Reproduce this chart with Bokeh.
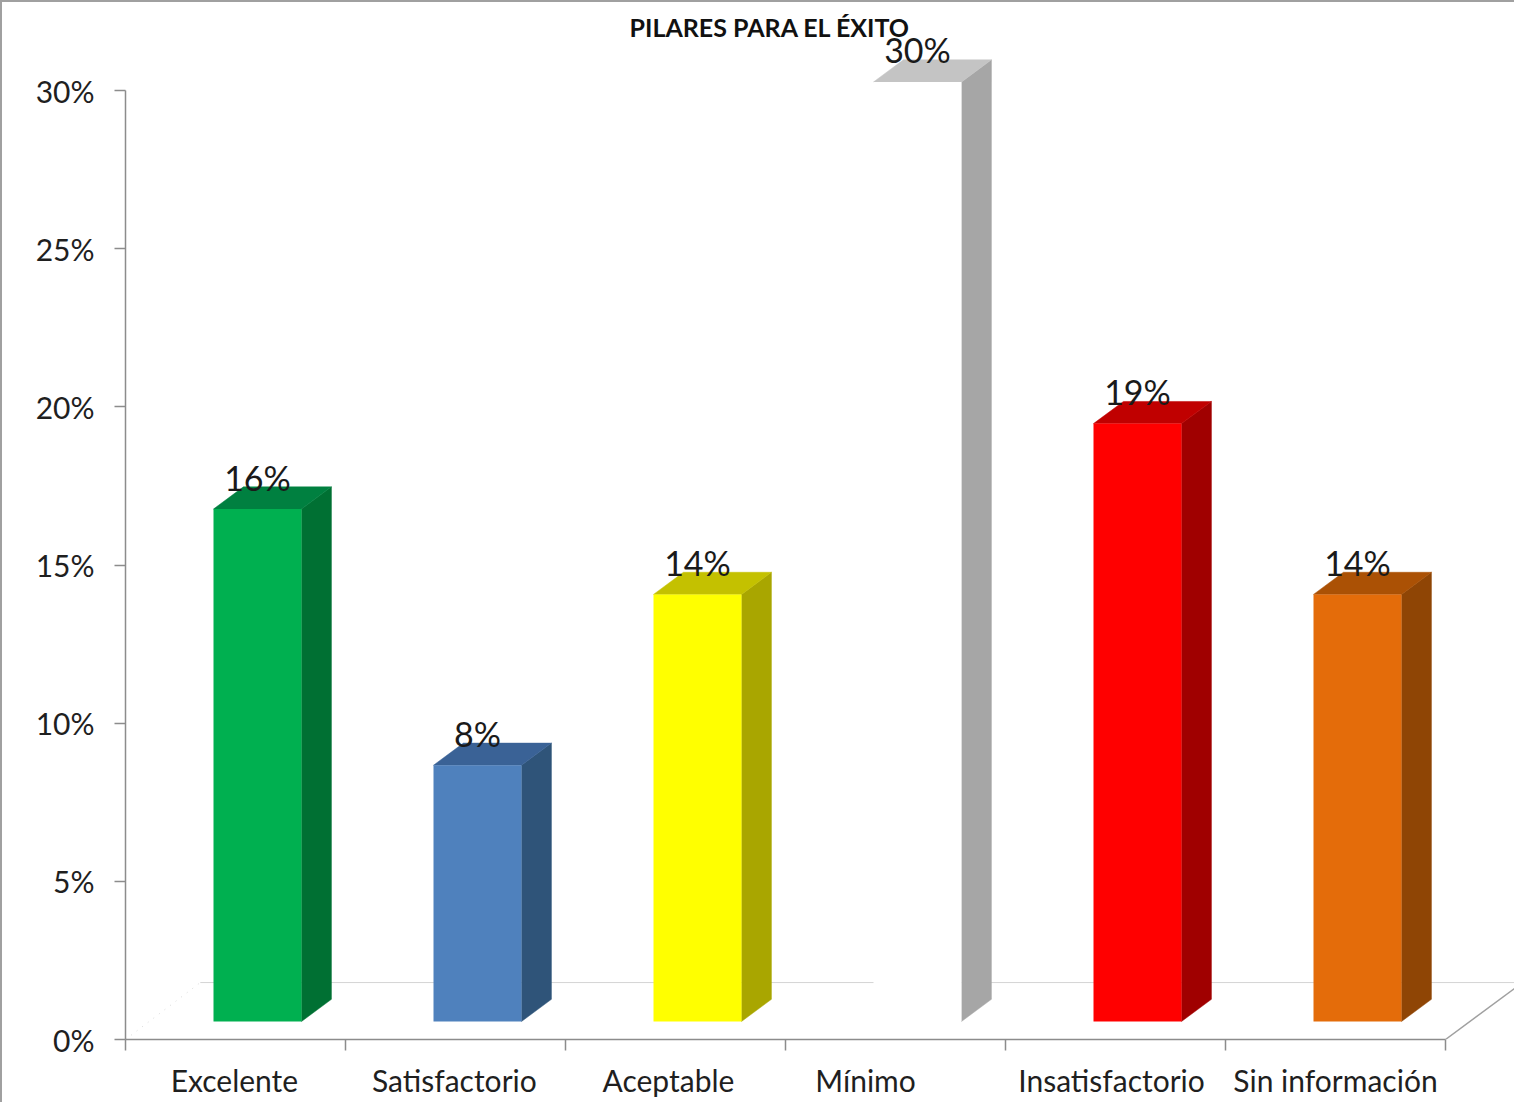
from bokeh.plotting import figure
from bokeh.embed import file_html
from bokeh.resources import INLINE
from bokeh.models import Range1d, FixedTicker, PrintfTickFormatter, Title, ColumnDataSource
from bokeh.core.properties import value

TITLE = "PILARES PARA EL ÉXITO"
categories = ["Excelente", "Satisfactorio", "Aceptable", "Mínimo", "Insatisfactorio", "Sin información"]
values = [16.2, 8.1, 13.5, 29.7, 18.9, 13.5]
y_ticks = [0, 5, 10, 15, 20, 25, 30]
front_colors = ["#00B050", "#4F81BD", "#FFFF00", "#FFFFFF", "#FF0000", "#E46C0A"]
side_colors = ["#007033", "#2F5479", "#A9A600", "#A6A6A6", "#A00000", "#8F4505"]
top_colors = ["#008040", "#3A6296", "#C4C100", "#C4C4C4", "#C00000", "#AB5105"]

# chart geometry (3-D look)
BASE = 0.57; DX = 0.136; DY = 0.7; FLOOR = 1.8
BAR_L = 0.4; BAR_R = 0.8
label_shift = [-0.005, -0.005, -0.032, -0.136, -0.018, 0.0]

FONT = "Lato"
W, H = 1514, 1102
M_TOP, M_BOTTOM, M_LEFT = 30, 63, 125
PX_X = 220; PX_Y = 949 / 30
n = len(categories)
left = [i + BAR_L for i in range(n)]
right = [i + BAR_R for i in range(n)]
top = [BASE + v for v in values]
x_end = (W - M_LEFT) / PX_X

p = figure(width=W, height=H, output_backend="svg", toolbar_location=None,
           x_range=Range1d(0, x_end), y_range=Range1d(0, (H - M_TOP - M_BOTTOM) / PX_Y),
           min_border_left=M_LEFT, min_border_right=0, min_border_top=M_TOP, min_border_bottom=M_BOTTOM,
           border_fill_color=None, background_fill_color=None,
           styles={"box-shadow": "inset 2px 2px 0 0 #a0a0a0"})
p.grid.visible = False
p.outline_line_color = None

p.title = Title(text=TITLE, align="left", offset=504, standoff=-23, text_font=FONT,
                text_font_style="bold", text_font_size="25px", text_color="#111111")

# floor
p.line([BAR_L - 0.06, x_end], [FLOOR, FLOOR], line_color="#D4D4D4", line_width=1)
p.line([0, BAR_L - 0.06], [0, FLOOR], line_color="#D8D8D8", line_width=1, line_dash="1 6")
p.line([n, n + 0.35], [0, FLOOR], line_color="#A0A0A0", line_width=1.5)

side = ColumnDataSource(dict(
    xs=[[r, r + DX, r + DX, r] for r in right],
    ys=[[BASE, BASE + DY, t + DY, t] for t in top],
    color=side_colors))
p.patches("xs", "ys", source=side, fill_color="color", line_color="color", line_width=0.5)

cap = ColumnDataSource(dict(
    xs=[[l, l + DX, r + DX, r] for l, r in zip(left, right)],
    ys=[[t, t + DY, t + DY, t] for t in top],
    color=top_colors))
p.patches("xs", "ys", source=cap, fill_color="color", line_color="color", line_width=0.5)

p.quad(left=left, right=right, bottom=[BASE] * n, top=top, fill_color=front_colors, line_color=None)

labels = ColumnDataSource(dict(
    x=[(l + r) / 2 for l, r in zip(left, right)], y=top,
    text=[f"{round(v)}%" for v in values]))
p.text("x", "y", "text", source=labels, text_align="center", text_baseline="alphabetic",
       y_offset=-32, text_font=value(FONT), text_font_size="34px", text_color="#1a1a1a")

# axes
xa = p.xaxis[0]
xa.bounds = (0, n)
xa.ticker = FixedTicker(ticks=[i + 0.5 + s for i, s in enumerate(label_shift)],
                        minor_ticks=list(range(n + 1)))
xa.major_label_overrides = {i + 0.5 + s: c for i, (s, c) in enumerate(zip(label_shift, categories))}
xa.major_tick_line_color = None
xa.major_tick_in = 0
xa.major_tick_out = 0
xa.minor_tick_in = 0
xa.minor_tick_out = 11
xa.minor_tick_line_color = "#8C8C8C"
xa.minor_tick_line_width = 1.5
xa.axis_line_color = "#8C8C8C"
xa.axis_line_width = 1.5
xa.major_label_standoff = 11
xa.major_label_text_font = FONT
xa.major_label_text_font_size = "30px"
xa.major_label_text_font_style = "normal"
xa.major_label_text_color = "#1f1f1f"

ya = p.yaxis[0]
ya.bounds = (y_ticks[0], y_ticks[-1])
ya.ticker = FixedTicker(ticks=y_ticks)
ya.formatter = PrintfTickFormatter(format="%d%%")
ya.major_tick_in = 0
ya.major_tick_out = 11
ya.major_tick_line_color = "#8C8C8C"
ya.major_tick_line_width = 1.5
ya.minor_tick_line_color = None
ya.axis_line_color = "#8C8C8C"
ya.axis_line_width = 1.5
ya.major_label_standoff = 20
ya.major_label_text_font = FONT
ya.major_label_text_font_size = "30px"
ya.major_label_text_color = "#1f1f1f"

open("out.html", "w").write(file_html(p, INLINE))
